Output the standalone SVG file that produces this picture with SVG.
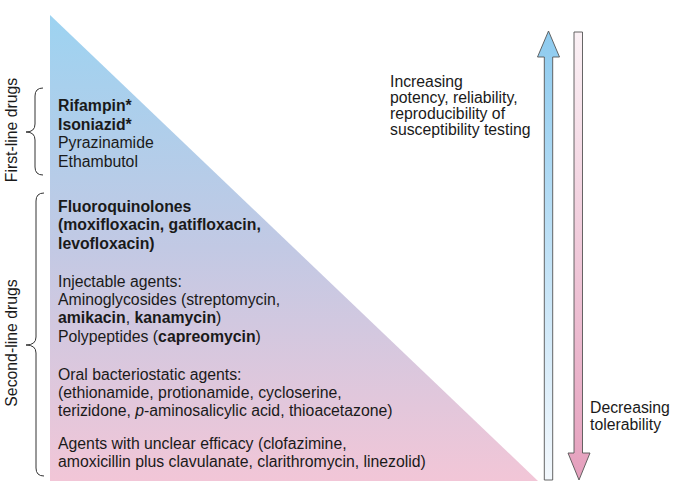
<svg xmlns="http://www.w3.org/2000/svg" width="677" height="498" viewBox="0 0 677 498">
<style>
text{font-family:"Liberation Sans",Arial,sans-serif;font-size:15.8px;fill:#1a1a1a}
.b{font-weight:bold}
.brace{fill:none;stroke:#333;stroke-width:1}
.arr{stroke:#555;stroke-width:0.9}
</style>
<defs>
<linearGradient id="tri" x1="0" y1="15" x2="0" y2="481" gradientUnits="userSpaceOnUse">
<stop offset="0" stop-color="#9dd3f1"/>
<stop offset="0.5" stop-color="#c2c9e4"/>
<stop offset="1" stop-color="#f2c6d7"/>
</linearGradient>
<linearGradient id="up" x1="0" y1="31" x2="0" y2="480" gradientUnits="userSpaceOnUse">
<stop offset="0" stop-color="#8ecbef"/>
<stop offset="1" stop-color="#f3f8fd"/>
</linearGradient>
<linearGradient id="down" x1="0" y1="32" x2="0" y2="480" gradientUnits="userSpaceOnUse">
<stop offset="0" stop-color="#fbf1f5"/>
<stop offset="1" stop-color="#e5a0bd"/>
</linearGradient>
</defs>
<rect width="677" height="498" fill="#fff"/>
<g id="triangle"><path d="M50,15 L538,481 L50,481 Z" fill="url(#tri)"/></g>
<g id="first-line">
<path class="brace" d="M43,88 Q35,88 35,96 L35,124 Q35,132 26,132 Q35,132 35,140 L35,167 Q35,175 43,175"/>
<text transform="translate(17,130) rotate(-90)" text-anchor="middle">First-line drugs</text>
<text x="58" y="111" class="b">Rifampin*</text>
<text x="58" y="130" class="b">Isoniazid*</text>
<text x="58" y="148">Pyrazinamide</text>
<text x="58" y="167">Ethambutol</text>
</g>
<g id="second-line">
<path class="brace" d="M44,193 Q36,193 36,201 L36,337 Q36,345 26,345 Q36,345 36,353 L36,468 Q36,476 44,476"/>
<text transform="translate(17,343) rotate(-90)" text-anchor="middle">Second-line drugs</text>
</g>
<g id="fluoroquinolones">
<text x="58" y="212" class="b">Fluoroquinolones</text>
<text x="58" y="230" class="b">(moxifloxacin, gatifloxacin,</text>
<text x="58" y="249" class="b">levofloxacin)</text>
</g>
<g id="injectable">
<text x="58" y="287">Injectable agents:</text>
<text x="58" y="305">Aminoglycosides (streptomycin,</text>
<text x="58" y="323"><tspan class="b">amikacin</tspan>, <tspan class="b">kanamycin</tspan>)</text>
<text x="58" y="342">Polypeptides (<tspan class="b">capreomycin</tspan>)</text>
</g>
<g id="oral">
<text x="58" y="380">Oral bacteriostatic agents:</text>
<text x="58" y="398">(ethionamide, protionamide, cycloserine,</text>
<text x="58" y="416">terizidone, <tspan font-style="italic">p</tspan>-aminosalicylic acid, thioacetazone)</text>
</g>
<g id="unclear">
<text x="58" y="449">Agents with unclear efficacy (clofazimine,</text>
<text x="58" y="467">amoxicillin plus clavulanate, clarithromycin, linezolid)</text>
</g>
<g id="connectors">
<path id="up-arrow" class="arr" fill="url(#up)" d="M548.5,31 L559.5,57 L552.7,57 L552.7,480 L544.3,480 L544.3,57 L537.5,57 Z"/>
<path id="down-arrow" class="arr" fill="url(#down)" d="M574,32 L582.5,32 L582.5,453 L590,453 L579,480 L568,453 L574,453 Z"/>
</g>
<g id="increasing">
<text x="390" y="87">Increasing</text>
<text x="390" y="103">potency, reliability,</text>
<text x="390" y="119">reproducibility of</text>
<text x="390" y="135">susceptibility testing</text>
</g>
<g id="decreasing">
<text x="590" y="413">Decreasing</text>
<text x="590" y="430">tolerability</text>
</g>
</svg>
